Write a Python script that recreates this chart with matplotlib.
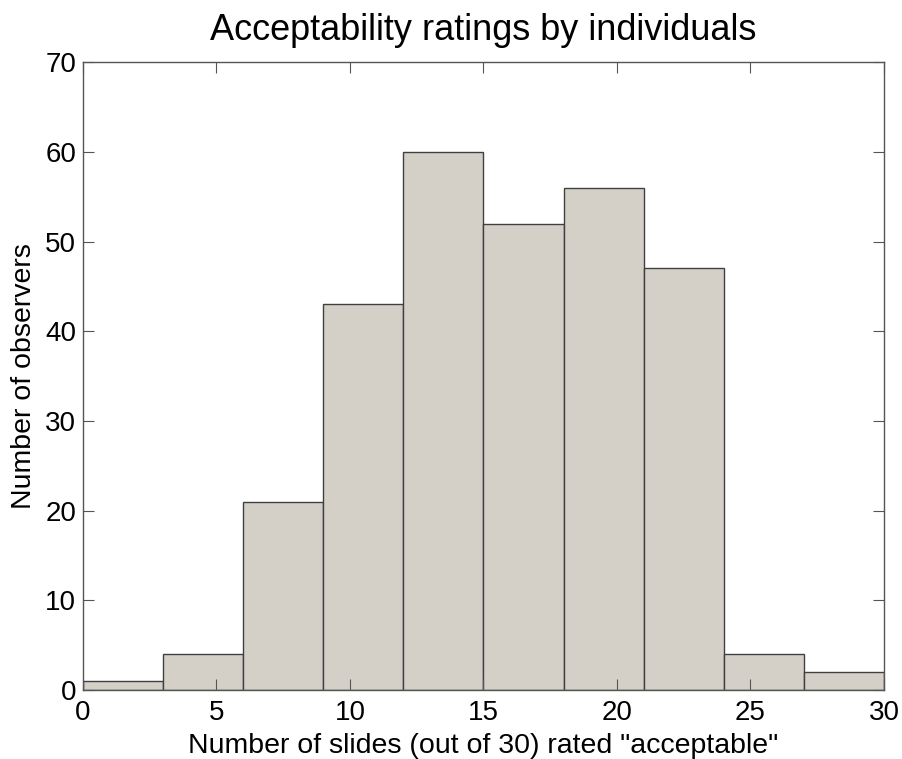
import numpy as np
import matplotlib.pyplot as plt

# Histogram counts, bins of width 3 from 0 to 30
bin_edges = [0, 3, 6, 9, 12, 15, 18, 21, 24, 27, 30]
counts = [1, 4, 21, 43, 60, 52, 56, 47, 4, 2]

x_ticks = [0, 5, 10, 15, 20, 25, 30]
y_ticks = [0, 10, 20, 30, 40, 50, 60, 70]

plt.rcParams['font.family'] = ['Liberation Sans', 'DejaVu Sans']
plt.rcParams['font.size'] = 20

fig = plt.figure(figsize=(9.02, 7.59), dpi=100)
ax = fig.add_axes([0.092, 0.091, 0.888, 0.827])

lefts = np.array(bin_edges[:-1])
widths = np.diff(bin_edges)
ax.bar(lefts, counts, width=widths, align='edge',
       color='#d4d0c8', edgecolor='#404040', linewidth=1.0)

ax.set_xlim(0, 30)
ax.set_ylim(0, 70)
ax.set_xticks(x_ticks)
ax.set_yticks(y_ticks)
ax.tick_params(direction='in', top=True, right=True, length=8,
               color='#555555', labelsize=20)
ax.tick_params(axis='x', pad=7)
ax.tick_params(axis='y', pad=5)
for s in ax.spines.values():
    s.set_color('#555555')
    s.set_linewidth(1.0)

ax.set_title('Acceptability ratings by individuals', fontsize=26, pad=16)
ax.set_xlabel('Number of slides (out of 30) rated "acceptable"', fontsize=20.5, labelpad=5)
ax.set_ylabel('Number of observers', fontsize=20.5, labelpad=6)

fig.savefig('out.png', dpi=100)
